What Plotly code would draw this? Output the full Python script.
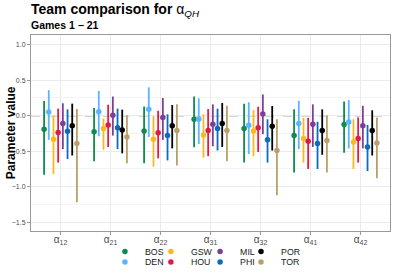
import plotly.graph_objects as go

params = ["a12", "a21", "a22", "a31", "a32", "a41", "a42"]
param_labels = ["α<sub>12</sub>", "α<sub>21</sub>", "α<sub>22</sub>", "α<sub>31</sub>",
                "α<sub>32</sub>", "α<sub>41</sub>", "α<sub>42</sub>"]
teams = ["BOS", "DEN", "GSW", "HOU", "MIL", "PHI", "POR", "TOR"]
colors = ["#118A4E", "#5AB4FF", "#FFB81C", "#DC1A4B", "#7B3F98", "#0A6BC0", "#000000", "#B9A06A"]

# estimates per team, one value per parameter (a12..a42)
est = {
    "BOS": [-0.19, -0.225, -0.215, -0.05, -0.18, -0.28, -0.125],
    "DEN": [0.052, 0.057, 0.09, -0.05, -0.135, -0.11, -0.09],
    "GSW": [-0.33, -0.18, -0.33, -0.27, -0.215, -0.32, -0.37],
    "HOU": [-0.235, -0.13, -0.24, -0.21, -0.17, -0.36, -0.32],
    "MIL": [-0.11, 0.005, -0.025, -0.12, 0.024, -0.12, -0.14],
    "PHI": [-0.22, -0.17, -0.28, -0.18, -0.34, -0.39, -0.44],
    "POR": [-0.14, -0.20, -0.14, -0.11, -0.15, -0.21, -0.21],
    "TOR": [-0.39, -0.30, -0.21, -0.21, -0.49, -0.35, -0.385],
}
upper = {
    "BOS": [0.207, 0.11, 0.13, 0.27, 0.17, 0.09, 0.20],
    "DEN": [0.36, 0.35, 0.40, 0.245, 0.19, 0.21, 0.22],
    "GSW": [0.005, -0.04, -0.005, 0.02, 0.08, -0.03, -0.05],
    "HOU": [0.10, 0.155, 0.07, 0.094, 0.127, -0.03, -0.025],
    "MIL": [0.175, 0.27, 0.25, 0.16, 0.30, 0.16, 0.14],
    "PHI": [0.09, 0.10, 0.02, 0.10, -0.05, -0.085, -0.13],
    "POR": [0.17, 0.085, 0.15, 0.18, 0.137, 0.09, 0.076],
    "TOR": [0.094, 0.005, 0.16, 0.14, -0.05, 0.005, -0.025],
}
lower = {
    "BOS": [-0.83, -0.64, -0.67, -0.445, -0.66, -0.80, -0.52],
    "DEN": [-0.34, -0.29, -0.30, -0.40, -0.54, -0.47, -0.46],
    "GSW": [-0.82, -0.48, -0.72, -0.59, -0.57, -0.66, -0.75],
    "HOU": [-0.66, -0.44, -0.60, -0.57, -0.51, -0.75, -0.66],
    "MIL": [-0.47, -0.28, -0.34, -0.43, -0.26, -0.44, -0.46],
    "PHI": [-0.61, -0.47, -0.63, -0.49, -0.66, -0.75, -0.78],
    "POR": [-0.56, -0.53, -0.46, -0.44, -0.49, -0.55, -0.56],
    "TOR": [-1.22, -0.67, -0.70, -0.64, -1.12, -0.80, -0.88],
}

dodge_width = 0.75
n_teams = len(teams)
cat_pos = list(range(len(params)))

# legend layout: 4 columns x 2 rows (column-major like the reference)
legend_col_x = [0.206, 0.334, 0.471, 0.585]   # paper x of each column's left edge
legend_row_y = [0.0788, 0.0403]               # container y of each row

fig = go.Figure()
for j, (team, col) in enumerate(zip(teams, colors)):
    offset = (j - (n_teams - 1) / 2) * dodge_width / n_teams
    xs = [p + offset for p in cat_pos]
    e = est[team]
    up = [u - v for u, v in zip(upper[team], e)]
    dn = [v - l for v, l in zip(e, lower[team])]
    fig.add_trace(go.Scatter(
        x=xs, y=e, mode="markers", name=team, showlegend=True,
        marker=dict(color=col, size=5.5, symbol="circle"),
        error_y=dict(type="data", symmetric=False, array=up, arrayminus=dn,
                     color=col, thickness=1.8, width=0),
        legend="legend" if j == 0 else f"legend{j + 1}",
    ))

fig.add_hline(y=0, line=dict(color="#222222", width=0.9, dash="dash"), layer="below")

font = "Liberation Sans, Arial, sans-serif"
legends = {}
for j in range(n_teams):
    key = "legend" if j == 0 else f"legend{j + 1}"
    legends[key] = dict(
        orientation="h", xanchor="left", x=legend_col_x[j // 2],
        yanchor="middle", yref="container", y=legend_row_y[j % 2],
        font=dict(family=font, size=8.8, color="#1a1a1a"),
        itemwidth=30, bgcolor="rgba(0,0,0,0)", borderwidth=0, visible=True,
    )

fig.update_layout(
    width=393, height=273, autosize=False, showlegend=True,
    margin=dict(l=31, r=3, t=35, b=42, autoexpand=False),
    paper_bgcolor="white", plot_bgcolor="white",
    font=dict(family=font),
    xaxis=dict(
        range=[-0.59, 6.59], tickmode="array", tickvals=cat_pos, ticktext=param_labels,
        showgrid=True, gridcolor="#EBEBEB", gridwidth=1,
        showline=True, linecolor="#9a9a9a", linewidth=1, mirror=True,
        ticks="outside", ticklen=3, tickcolor="#9a9a9a", ticklabelstandoff=-4,
        tickfont=dict(family=font, size=10, color="#4d4d4d"), zeroline=False,
    ),
    yaxis=dict(
        range=[-1.624, 1.137], tick0=0, dtick=0.5, tickformat=".1f",
        showgrid=True, gridcolor="#EBEBEB", gridwidth=1,
        minor=dict(dtick=0.25, tick0=0, showgrid=True, gridcolor="#F4F4F4", gridwidth=0.6),
        showline=True, linecolor="#9a9a9a", linewidth=1, mirror=True,
        ticks="outside", ticklen=3, tickcolor="#9a9a9a",
        tickfont=dict(family=font, size=7, color="#4d4d4d"), zeroline=False,
    ),
    annotations=[
        dict(text="<b>Team comparison for</b> α<sub><i>QH</i></sub>", xref="paper", yref="paper",
             x=-0.006, y=1.13, xanchor="left", yanchor="middle", showarrow=False,
             font=dict(family=font, size=14, color="black")),
        dict(text="<b>Games 1 − 21</b>", xref="paper", yref="paper",
             x=-0.006, y=1.051, xanchor="left", yanchor="middle", showarrow=False,
             font=dict(family=font, size=10.5, color="black")),
        dict(text="<b>Parameter value</b>", xref="paper", yref="paper",
             x=-0.055, y=0.5, xanchor="center", yanchor="middle", textangle=-90,
             showarrow=False, font=dict(family=font, size=12, color="black")),
    ],
    **legends,
)

fig.write_html("out.html", config={"displayModeBar": False},
               post_script="document.body.style.margin='0';")
